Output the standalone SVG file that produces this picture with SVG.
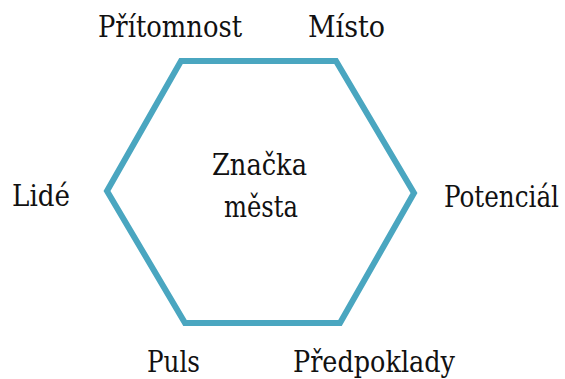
<svg xmlns="http://www.w3.org/2000/svg" width="565" height="379" viewBox="0 0 565 379">
<style>
.lbl{font-family:'DejaVu Serif Condensed','DejaVu Serif',serif;font-stretch:condensed;font-size:29px;fill:#111}
.hex{fill:none;stroke:#4aa6c0;stroke-width:6;stroke-linejoin:miter}
</style>
<rect width="565" height="379" fill="#fff"/>
<g id="hexagon">
<polygon class="hex" points="181,61 336,61 414,193 340,323 185,323 107,191"/>
<text class="lbl" x="212" y="175" textLength="95" lengthAdjust="spacingAndGlyphs">Značka</text>
<text class="lbl" x="224" y="217" textLength="74" lengthAdjust="spacingAndGlyphs">města</text>
</g>
<g id="pritomnost"><text class="lbl" x="98" y="37" textLength="144" lengthAdjust="spacingAndGlyphs">Přítomnost</text></g>
<g id="misto"><text class="lbl" x="308" y="37" textLength="77" lengthAdjust="spacingAndGlyphs">Místo</text></g>
<g id="lide"><text class="lbl" x="12" y="206" textLength="58" lengthAdjust="spacingAndGlyphs">Lidé</text></g>
<g id="potencial"><text class="lbl" x="444" y="207" textLength="115" lengthAdjust="spacingAndGlyphs">Potenciál</text></g>
<g id="puls"><text class="lbl" x="147" y="372" textLength="53" lengthAdjust="spacingAndGlyphs">Puls</text></g>
<g id="predpoklady"><text class="lbl" x="293" y="372" textLength="162" lengthAdjust="spacingAndGlyphs">Předpoklady</text></g>
</svg>
